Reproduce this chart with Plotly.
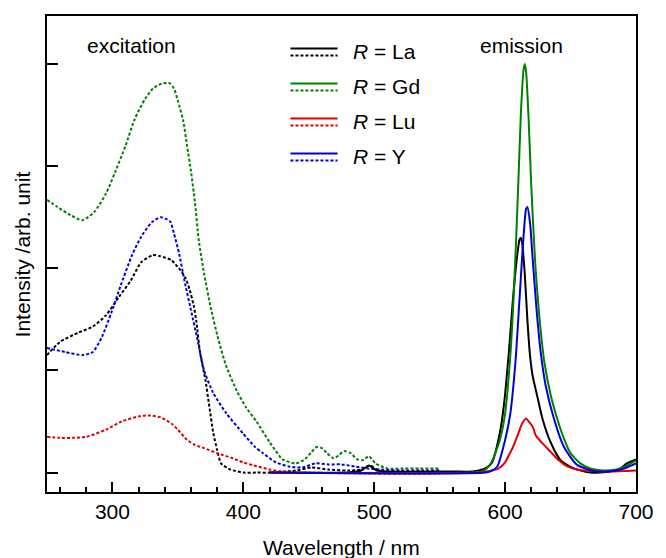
import plotly.graph_objects as go

# ---- excitation spectra (dotted) ----
exc_wl_la = [250, 260, 274, 285, 295, 305, 314, 322, 331, 336, 345, 352, 356, 359, 362, 364,
             367, 371, 374, 377, 380, 383, 390, 400, 410, 420, 440, 452, 465, 480, 490, 497,
             503, 510]
exc_la = [1.15, 1.28, 1.37, 1.43, 1.54, 1.72, 1.88, 2.06, 2.13, 2.12, 2.08, 1.98, 1.90, 1.79,
          1.64, 1.49, 1.17, 0.91, 0.65, 0.39, 0.22, 0.09, 0.03, 0.0, 0.0, 0.0, 0.02, 0.05,
          0.03, 0.02, 0.03, 0.07, 0.02, 0.0]

exc_wl_gd = [250, 258, 268, 277, 286, 295, 302, 310, 317, 325, 331, 338, 344, 347, 350, 354,
             357, 360, 363, 366, 370, 375, 381, 387, 395, 402, 410, 420, 430, 440, 447, 452,
             456, 460, 464, 469, 473, 477, 482, 487, 491, 496, 501, 510, 522, 535, 550]
exc_gd = [2.67, 2.60, 2.52, 2.47, 2.55, 2.73, 2.94, 3.20, 3.46, 3.66, 3.76, 3.81, 3.81, 3.76,
          3.64, 3.45, 3.20, 2.95, 2.65, 2.27, 1.95, 1.62, 1.30, 1.04, 0.80, 0.64, 0.50, 0.30,
          0.13, 0.09, 0.13, 0.20, 0.25, 0.24, 0.19, 0.14, 0.17, 0.21, 0.19, 0.13, 0.12, 0.16,
          0.09, 0.04, 0.04, 0.04, 0.04]

exc_wl_lu = [250, 260, 270, 280, 295, 307, 320, 328, 337, 345, 350, 357, 363, 370, 380, 392,
             400, 408, 420, 430, 450, 500, 550]
exc_lu = [0.35, 0.34, 0.34, 0.35, 0.42, 0.50, 0.55, 0.56, 0.54, 0.48, 0.42, 0.32, 0.27, 0.24,
          0.19, 0.14, 0.10, 0.07, 0.03, 0.01, 0.0, -0.01, -0.01]

exc_wl_y = [250, 264, 277, 285, 292, 299, 306, 315, 322, 330, 337, 344, 347, 351, 355, 360,
            365, 370, 377, 387, 400, 409, 415, 425, 435, 445, 455, 465, 475, 485, 495, 505,
            520, 535, 550]
exc_y = [1.22, 1.18, 1.15, 1.18, 1.33, 1.56, 1.82, 2.13, 2.31, 2.45, 2.50, 2.46, 2.34, 2.14,
         1.88, 1.59, 1.30, 1.00, 0.78, 0.58, 0.38, 0.25, 0.19, 0.10, 0.06, 0.05, 0.09, 0.08,
         0.08, 0.06, 0.04, 0.03, 0.02, 0.02, 0.02]

# ---- emission spectra (solid) ----
em_wl_la = [420, 480, 490, 496, 502, 510, 560, 575, 580, 586, 590, 596, 599, 603, 606, 609,
            611, 612, 613, 615, 617, 619, 621, 624, 628.7, 635, 642.5, 652.5, 665, 680, 688,
            693, 700]
em_la = [0.0, 0.0, 0.02, 0.07, 0.02, 0.01, 0.01, 0.01, 0.02, 0.05, 0.10, 0.39, 0.65, 1.20,
         1.70, 2.10, 2.28, 2.30, 2.25, 1.95, 1.50, 1.15, 0.95, 0.78, 0.52, 0.29, 0.12, 0.04,
         0.0, 0.01, 0.04, 0.09, 0.13]

em_wl_gd = [420, 575, 582, 586, 590, 596, 600, 604, 607, 610, 612, 614, 615, 616, 618, 620,
            623, 626, 630, 635, 640, 645, 650, 657.5, 665, 675, 685, 692, 700]
em_gd = [0.0, 0.0, 0.01, 0.04, 0.11, 0.32, 0.58, 1.15, 1.85, 2.80, 3.50, 3.93, 4.00, 3.93,
         3.45, 2.80, 2.05, 1.55, 1.08, 0.75, 0.52, 0.33, 0.19, 0.09, 0.04, 0.02, 0.03, 0.06,
         0.12]

em_wl_lu = [420, 580, 590, 595, 600, 602.5, 606, 610, 613, 616, 618, 621, 623.6, 627.5, 635,
            641, 647.5, 655, 660, 680, 700]
em_lu = [0.0, 0.0, 0.02, 0.04, 0.10, 0.16, 0.25, 0.38, 0.48, 0.53, 0.50, 0.45, 0.36, 0.30,
         0.20, 0.12, 0.06, 0.03, 0.02, 0.01, 0.02]

em_wl_y = [420, 585, 590, 594, 600, 604, 608, 611, 614, 616, 617, 619, 621, 624, 627, 631,
           637.5, 645, 655, 670, 685, 693, 700]
em_y = [0.0, 0.0, 0.02, 0.06, 0.32, 0.58, 1.10, 1.70, 2.30, 2.58, 2.60, 2.45, 2.10, 1.60,
        1.20, 0.85, 0.52, 0.25, 0.075, 0.01, 0.02, 0.05, 0.09]

hosts = ["La", "Gd", "Lu", "Y"]
colors = {"La": "#000000", "Gd": "#008000", "Lu": "#e00000", "Y": "#0000dd"}
excitation = {"La": (exc_wl_la, exc_la), "Gd": (exc_wl_gd, exc_gd),
              "Lu": (exc_wl_lu, exc_lu), "Y": (exc_wl_y, exc_y)}
emission = {"La": (em_wl_la, em_la), "Gd": (em_wl_gd, em_gd),
            "Lu": (em_wl_lu, em_lu), "Y": (em_wl_y, em_y)}

FONT = "Arial, 'Liberation Sans', sans-serif"
DOT = "3px,2px"

fig = go.Figure()
for h in hosts:
    wl, v = excitation[h]
    fig.add_trace(go.Scatter(x=wl, y=v, mode="lines", showlegend=False,
                             line=dict(color=colors[h], width=2, dash=DOT,
                                       shape="spline", smoothing=0.6)))
for h in hosts:
    wl, v = emission[h]
    fig.add_trace(go.Scatter(x=wl, y=v, mode="lines", showlegend=False,
                             line=dict(color=colors[h], width=2,
                                       shape="spline", smoothing=0.6)))

# plot area in pixels
L, R, T, B = 47, 19, 16, 66
W, H = 666, 558
pw, ph = W - L - R, H - T - B


def px(x):
    return (x - L) / pw


def py(y):
    return (H - B - y) / ph


# legend: solid + dotted sample per host, with label
shapes = []
annotations = []
for i, h in enumerate(hosts):
    y0 = 48.5 + 35 * i
    shapes.append(dict(type="line", xref="paper", yref="paper",
                       x0=px(295), x1=px(343), y0=py(y0), y1=py(y0),
                       line=dict(color=colors[h], width=2)))
    shapes.append(dict(type="line", xref="paper", yref="paper",
                       x0=px(295), x1=px(343), y0=py(y0 + 7), y1=py(y0 + 7),
                       line=dict(color=colors[h], width=2, dash=DOT)))
    annotations.append(dict(xref="paper", yref="paper", x=px(357), y=py(y0 + 3),
                            xanchor="left", yanchor="middle", showarrow=False,
                            text="<i>R</i> = " + h, font=dict(size=21)))

annotations += [
    dict(xref="paper", yref="paper", x=px(133), y=py(45), text="excitation",
         showarrow=False, xanchor="center", yanchor="middle", font=dict(size=21)),
    dict(xref="paper", yref="paper", x=px(530), y=py(45), text="emission",
         showarrow=False, xanchor="center", yanchor="middle", font=dict(size=21)),
    dict(xref="paper", yref="paper", x=0.5, y=py(547), text="Wavelength / nm",
         showarrow=False, xanchor="center", yanchor="middle", font=dict(size=21)),
    dict(xref="paper", yref="paper", x=px(22), y=0.5, text="Intensity /arb. unit",
         textangle=-90, showarrow=False, xanchor="center", yanchor="middle",
         font=dict(size=21)),
]

fig.update_layout(
    width=W, height=H,
    margin=dict(l=L, r=R, t=T, b=B, pad=0),
    paper_bgcolor="white", plot_bgcolor="white",
    font=dict(family=FONT, size=21, color="black"),
    shapes=shapes, annotations=annotations,
    showlegend=False,
)
fig.update_xaxes(range=[250, 700], tickmode="array", tickvals=[300, 400, 500, 600, 700],
                 ticks="inside", ticklen=10, tickwidth=2, tickcolor="black",
                 minor=dict(dtick=20, tick0=0, ticks="inside", ticklen=5, tickwidth=2,
                            tickcolor="black", showgrid=False),
                 showline=True, linewidth=2, linecolor="black", mirror=True,
                 showgrid=False, zeroline=False, tickfont=dict(size=21))
fig.update_yaxes(range=[-0.19, 4.47], tickvals=[0, 1, 2, 3, 4], showticklabels=False,
                 ticks="inside", ticklen=11, tickwidth=2, tickcolor="black",
                 showline=True, linewidth=2, linecolor="black", mirror=True,
                 showgrid=False, zeroline=False)

fig.write_html("out.html")
